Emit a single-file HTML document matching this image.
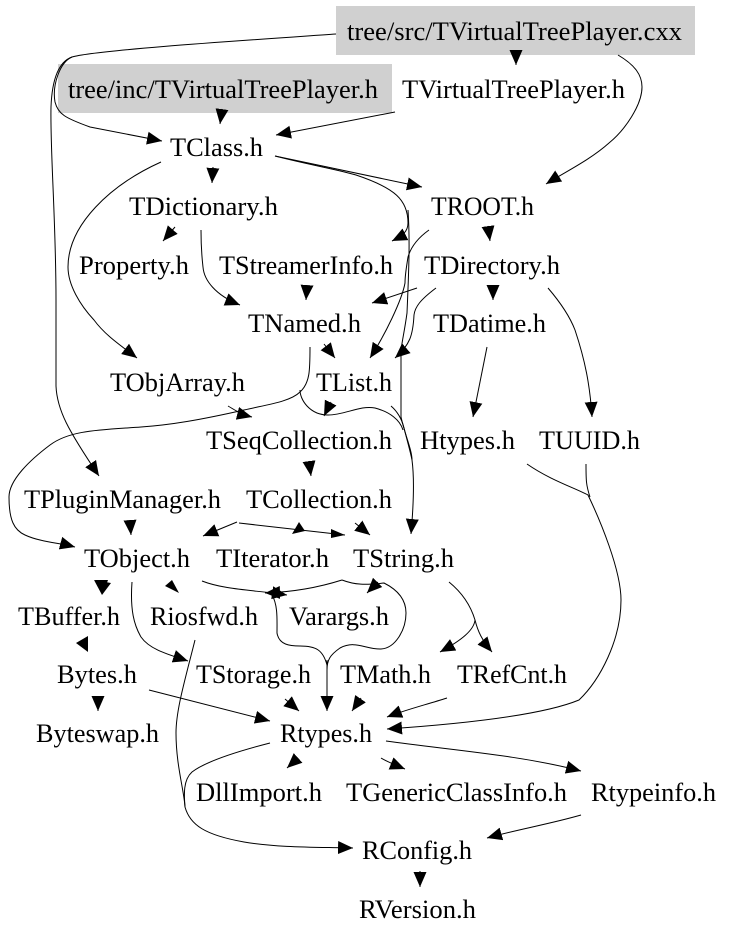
<!DOCTYPE html>
<html><head><meta charset="utf-8"><style>
html,body{margin:0;padding:0;background:#fff}
svg{display:block}
text{font-family:"Liberation Serif",serif;font-size:26px;fill:#000}
path{fill:none;stroke:#000;stroke-width:1}
polygon{fill:#000}
</style></head><body>
<svg width="735" height="939" viewBox="0 0 735 939" xmlns="http://www.w3.org/2000/svg">
<defs><marker id="a" markerUnits="userSpaceOnUse" markerWidth="16" markerHeight="14" refX="15" refY="7" orient="auto"><polygon points="0,0.5 15,7 0,13.5"/></marker></defs>
<rect width="735" height="939" fill="#fff"/>
<rect x="336" y="6" width="359" height="49" fill="#d0d0d0"/>
<rect x="58" y="64" width="334" height="49" fill="#d0d0d0"/>

<g>
<path marker-end="url(#a)" d="M336,34 C250,40 95,50 72,57 C58,62 52,80 51,107 C50,150 56,220 56,300 L56,386 C57,410 68,430 99,476"/>
<path marker-end="url(#a)" d="M72,57 C60,62 52,85 55,102 C58,114 65,118 90,127 L162,141"/>
<path marker-end="url(#a)" d="M516,50 L516,65"/>
<path marker-end="url(#a)" d="M222,109 L220,124"/>
<path marker-end="url(#a)" d="M395,112 L276,135"/>
<path marker-end="url(#a)" d="M618,55 C635,65 642,75 642,87 C642,105 625,130 609,143 C590,160 565,172 546,184"/>
<path marker-end="url(#a)" d="M275,156 L422,187"/>
<path marker-end="url(#a)" d="M275,156 C310,165 340,170 356,175 C395,188 408,200 408,223 C408,232 402,236 392,241"/>
<path marker-end="url(#a)" d="M408,210 C410,240 409,267 407,313 C404,335 401,345 401,353 L401,417 C405,435 412,450 412,460 C414,475 414,500 411,534"/>
<path marker-end="url(#a)" d="M213,167 L212,183"/>
<path marker-end="url(#a)" d="M161,162 C110,185 68,225 68,267 C68,285 80,305 94,320 C105,335 120,345 137,358"/>
<path marker-end="url(#a)" d="M175,227 L163,241"/>
<path marker-end="url(#a)" d="M201,230 C201,250 202,258 203,267 C204,280 215,295 240,305"/>
<path marker-end="url(#a)" d="M488,226 L490,241"/>
<path marker-end="url(#a)" d="M429,230 C415,240 410,250 408,257 C406,270 405,275 405,283 C402,300 385,335 370,358"/>
<path marker-end="url(#a)" d="M307,286 L306,300"/>
<path marker-end="url(#a)" d="M417,288 L372,303"/>
<path marker-end="url(#a)" d="M436,288 C420,300 415,307 414,315 C413,335 410,345 395,358"/>
<path marker-end="url(#a)" d="M493,286 L493,300"/>
<path marker-end="url(#a)" d="M548,288 C560,302 570,317 575,330 C585,360 590,385 592,417"/>
<path marker-end="url(#a)" d="M487,347 L473,417"/>
<path marker-end="url(#a)" d="M324,344 L335,358"/>
<path marker-end="url(#a)" d="M310,347 C310,370 310,383 300,392 C290,402 265,405 244,410 C200,420 170,425 141,427 C100,430 70,430 50,445 C30,460 9,480 9,497 C9,520 14,530 25,535 C40,542 60,543 75,547"/>
<path marker-end="url(#a)" d="M228,406 C235,410 240,414 252,417"/>
<path marker-end="url(#a)" d="M331,402 L324,416"/>
<path d="M300,390 C300,400 310,415 328,415 C345,415 360,405 375,408 C390,412 400,420 403,430"/>
<path d="M391,406 C398,412 402,420 404,428 C407,440 410,450 412,460"/>
<path marker-end="url(#a)" d="M527,464 C550,480 575,488 588,495 C600,520 621,570 621,600 C621,640 600,680 579,700 C550,712 490,722 387,729"/>
<path d="M586,464 C586,480 586,485 590,497"/>
<path marker-end="url(#a)" d="M309,461 L311,476"/>
<path marker-end="url(#a)" d="M130,520 L131,535"/>
<path marker-end="url(#a)" d="M237,522 L203,536"/>
<path d="M239,523 L345,535"/>
<polygon points="299,522 292,534 305,531"/>
<polygon points="331,529 345,535 331,538"/>
<path marker-end="url(#a)" d="M355,523 L370,535"/>
<polygon points="94,580 111,583 102,595"/>
<polygon points="95,580 108,580 103,593"/>
<polygon points="165,586 172,580 179,593"/>
<path marker-end="url(#a)" d="M132,582 C130,610 134,625 141,637 C150,650 170,655 188,661"/>
<path marker-end="url(#a)" d="M202,581 C225,590 255,590 287,595"/>
<path marker-end="url(#a)" d="M342,580 C320,587 295,592 265,593"/>
<path d="M272,595 C278,605 277,620 277,633 C279,645 290,646 300,646 C316,646 323,650 327,665"/>
<path d="M342,580 C355,585 365,585 384,583 C398,590 406,600 406,613 C406,630 395,649 380,649 C365,649 355,640 340,648 C330,655 327,660 327,670"/>
<path marker-end="url(#a)" d="M327,660 L327,711"/>
<path marker-end="url(#a)" d="M378,582 L367,593"/>
<path marker-end="url(#a)" d="M449,582 C465,595 472,610 475,620 C474,630 462,640 440,652"/>
<path marker-end="url(#a)" d="M475,620 C478,632 482,640 492,652"/>
<path marker-end="url(#a)" d="M195,640 C185,680 176,710 176,733 C176,765 184,790 185,807 C190,825 205,835 244,842 C280,848 320,847 353,848"/>
<path d="M270,743 C235,752 205,762 192,772 C183,780 184,795 185,807"/>
<polygon points="88,636 76,643 88,652"/>
<path marker-end="url(#a)" d="M98,696 L98,711"/>
<path marker-end="url(#a)" d="M149,690 L270,721"/>
<path marker-end="url(#a)" d="M285,699 L299,711"/>
<path marker-end="url(#a)" d="M361,698 L352,711"/>
<path marker-end="url(#a)" d="M447,698 C425,705 405,710 387,717"/>
<path marker-end="url(#a)" d="M298,758 L287,768"/>
<path marker-end="url(#a)" d="M381,758 C388,762 395,765 405,769"/>
<path marker-end="url(#a)" d="M386,741 C450,750 520,755 581,771"/>
<path marker-end="url(#a)" d="M581,815 C550,824 515,830 487,838"/>
<path marker-end="url(#a)" d="M420,871 L420,887"/>
</g>

<g>
<text x="347" y="40" textLength="335" lengthAdjust="spacingAndGlyphs">tree/src/TVirtualTreePlayer.cxx</text>
<text x="68" y="98" textLength="310" lengthAdjust="spacingAndGlyphs">tree/inc/TVirtualTreePlayer.h</text>
<text x="402" y="98" textLength="223" lengthAdjust="spacingAndGlyphs">TVirtualTreePlayer.h</text>
<text x="170" y="156" textLength="93" lengthAdjust="spacingAndGlyphs">TClass.h</text>
<text x="129" y="215" textLength="149" lengthAdjust="spacingAndGlyphs">TDictionary.h</text>
<text x="431" y="215" textLength="103" lengthAdjust="spacingAndGlyphs">TROOT.h</text>
<text x="79" y="274" textLength="110" lengthAdjust="spacingAndGlyphs">Property.h</text>
<text x="219" y="274" textLength="174" lengthAdjust="spacingAndGlyphs">TStreamerInfo.h</text>
<text x="424" y="274" textLength="136" lengthAdjust="spacingAndGlyphs">TDirectory.h</text>
<text x="248" y="332" textLength="113" lengthAdjust="spacingAndGlyphs">TNamed.h</text>
<text x="433" y="332" textLength="113" lengthAdjust="spacingAndGlyphs">TDatime.h</text>
<text x="110" y="391" textLength="135" lengthAdjust="spacingAndGlyphs">TObjArray.h</text>
<text x="316" y="391" textLength="76" lengthAdjust="spacingAndGlyphs">TList.h</text>
<text x="206" y="449" textLength="186" lengthAdjust="spacingAndGlyphs">TSeqCollection.h</text>
<text x="420" y="449" textLength="95" lengthAdjust="spacingAndGlyphs">Htypes.h</text>
<text x="539" y="449" textLength="101" lengthAdjust="spacingAndGlyphs">TUUID.h</text>
<text x="24" y="508" textLength="197" lengthAdjust="spacingAndGlyphs">TPluginManager.h</text>
<text x="246" y="508" textLength="146" lengthAdjust="spacingAndGlyphs">TCollection.h</text>
<text x="84" y="567" textLength="106" lengthAdjust="spacingAndGlyphs">TObject.h</text>
<text x="216" y="567" textLength="113" lengthAdjust="spacingAndGlyphs">TIterator.h</text>
<text x="353" y="567" textLength="101" lengthAdjust="spacingAndGlyphs">TString.h</text>
<text x="18" y="625" textLength="102" lengthAdjust="spacingAndGlyphs">TBuffer.h</text>
<text x="150" y="625" textLength="108" lengthAdjust="spacingAndGlyphs">Riosfwd.h</text>
<text x="289" y="625" textLength="100" lengthAdjust="spacingAndGlyphs">Varargs.h</text>
<text x="57" y="683" textLength="80" lengthAdjust="spacingAndGlyphs">Bytes.h</text>
<text x="196" y="683" textLength="115" lengthAdjust="spacingAndGlyphs">TStorage.h</text>
<text x="340" y="683" textLength="91" lengthAdjust="spacingAndGlyphs">TMath.h</text>
<text x="457" y="683" textLength="110" lengthAdjust="spacingAndGlyphs">TRefCnt.h</text>
<text x="36" y="742" textLength="123" lengthAdjust="spacingAndGlyphs">Byteswap.h</text>
<text x="280" y="742" textLength="92" lengthAdjust="spacingAndGlyphs">Rtypes.h</text>
<text x="196" y="801" textLength="126" lengthAdjust="spacingAndGlyphs">DllImport.h</text>
<text x="346" y="801" textLength="221" lengthAdjust="spacingAndGlyphs">TGenericClassInfo.h</text>
<text x="591" y="801" textLength="125" lengthAdjust="spacingAndGlyphs">Rtypeinfo.h</text>
<text x="362" y="859" textLength="110" lengthAdjust="spacingAndGlyphs">RConfig.h</text>
<text x="359" y="918" textLength="117" lengthAdjust="spacingAndGlyphs">RVersion.h</text>
</g>
</svg>
</body></html>
